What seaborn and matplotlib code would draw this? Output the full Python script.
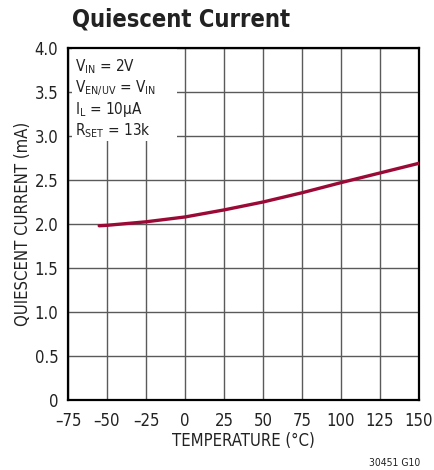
import numpy as np
import pandas as pd
import seaborn as sns
from matplotlib import pyplot as plt
from matplotlib.patches import Rectangle

# curve
temperature = [-55, -50, -25, 0, 25, 50, 75, 100, 125, 150]
current_ma = [1.98, 1.985, 2.025, 2.08, 2.16, 2.25, 2.355, 2.47, 2.58, 2.69]

x_ticks = [-75, -50, -25, 0, 25, 50, 75, 100, 125, 150]
y_ticks = [0, 0.5, 1.0, 1.5, 2.0, 2.5, 3.0, 3.5, 4.0]
y_ticklabels = ["0", "0.5", "1.0", "1.5", "2.0", "2.5", "3.0", "3.5", "4.0"]

conditions = [r"V$_{\rm IN}$ = 2V",
              r"V$_{\rm EN/UV}$ = V$_{\rm IN}$",
              r"I$_{\rm L}$ = 10µA",
              r"R$_{\rm SET}$ = 13k"]

sns.set_style("white")
plt.rcParams["font.family"] = ["DejaVu Sans"]
plt.rcParams["font.stretch"] = "condensed"

df = pd.DataFrame({"temp": temperature, "iq": current_ma})

fig = plt.figure(figsize=(4.34, 4.70), dpi=100)
ax = fig.add_axes([68 / 434, 70 / 470, 351 / 434, 352 / 470])

sns.lineplot(data=df, x="temp", y="iq", ax=ax, color="#9b0a36", linewidth=2.4, zorder=4)

ax.set_xlim(-75, 150)
ax.set_ylim(0, 4)
ax.set_xticks(x_ticks)
ax.set_xticklabels([str(t).replace("-", "\u2013") for t in x_ticks])
ax.set_yticks(y_ticks)
ax.set_yticklabels(y_ticklabels)
ax.tick_params(length=0, labelsize=12, colors="#222222")
ax.tick_params(axis="x", pad=9)
ax.tick_params(axis="y", pad=7)
ax.grid(True, color="#5a5a5a", linewidth=1.0)
ax.set_axisbelow(True)
for sp in ax.spines.values():
    sp.set_color("black")
    sp.set_linewidth(1.6)

ax.set_xlabel("TEMPERATURE (°C)", fontsize=12, color="#222222", labelpad=1)
ax.set_ylabel("QUIESCENT CURRENT (mA)", fontsize=12, color="#222222", labelpad=2)

# white box behind the test conditions
ax.add_patch(Rectangle((0.012, 0.735), 0.298, 0.262, transform=ax.transAxes,
                       facecolor="white", edgecolor="none", zorder=2))
ax.text(0.02, 0.975, "\n".join(conditions), transform=ax.transAxes, va="top", ha="left",
        fontsize=11, color="#222222", linespacing=1.15, zorder=3)

fig.text(72 / 434, 1 - 19 / 470, "Quiescent Current", fontsize=17, fontweight="bold",
         color="#222222", va="center", ha="left")
fig.text(420 / 434, 1 - 463 / 470, "30451 G10", fontsize=7.5, color="#222222",
         va="center", ha="right")

fig.savefig("out.png", dpi=100)
